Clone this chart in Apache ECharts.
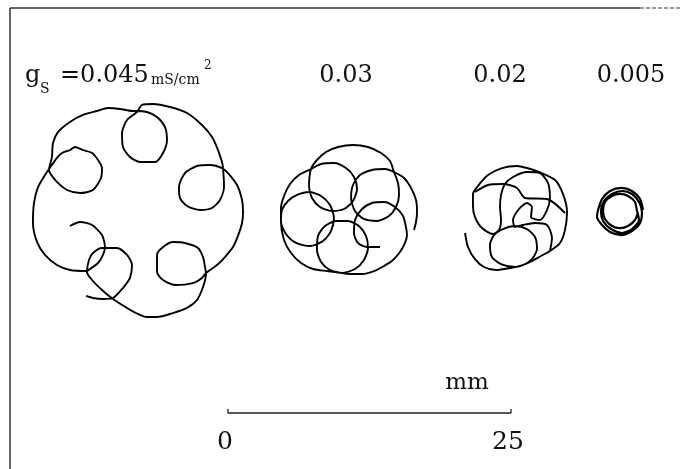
<!DOCTYPE html>
<html>
<head>
<meta charset="utf-8">
<script src="https://cdn.jsdelivr.net/npm/echarts@6/dist/echarts.min.js"></script>
<style>
html,body{margin:0;padding:0;background:#fff;}
#chart{width:682px;height:469px;}
</style>
</head>
<body>
<div id="chart"></div>
<script>
// Tip trajectories, positions in mm (scale bar = 25 mm)
const traj045 = [
[-13.96,16.52],[-13.07,16.87],[-12.01,16.61],[-11.13,15.72],[-10.87,14.66],[-11.04,13.96],[-11.48,13.25],[-12.19,12.72],[-12.46,12.54],
[-13.96,12.63],[-15.11,13.07],[-16.17,13.96],[-16.87,15.11],[-17.23,16.78],[-17.14,18.55],[-16.78,19.96],[-16.17,21.02],[-15.81,21.55],
[-15.11,22.53],[-14.66,22.97],[-13.96,23.23],[-13.52,23.50],[-12.81,23.23],[-12.01,22.97],[-11.48,22.35],[-11.13,21.64],[-11.22,20.76],
[-11.93,19.70],[-13.07,19.43],[-14.22,19.70],[-15.11,20.41],[-15.81,21.47],
[-15.55,22.62],[-15.46,23.85],[-15.02,24.82],[-13.96,25.71],[-12.81,26.33],[-11.57,26.68],[-10.60,26.94],[-9.54,26.86],[-8.48,26.68],[-8.04,26.68],
[-7.16,26.59],[-6.27,26.15],[-5.57,25.27],[-5.39,24.12],[-5.74,22.97],[-6.45,22.17],[-7.77,22.17],[-8.66,22.62],[-9.28,23.50],[-9.36,24.74],[-8.92,25.88],[-8.04,26.59],
[-7.60,27.21],[-6.63,27.30],[-5.12,27.03],[-3.62,26.50],[-2.30,25.44],[-1.41,24.38],[-0.88,23.23],[-0.53,22.17],[-0.44,21.64],
[-0.35,19.96],[-0.71,18.82],[-1.41,18.11],[-2.47,17.93],[-3.62,18.29],[-4.24,18.99],[-4.33,19.96],[-3.80,21.20],[-2.74,21.82],[-1.59,21.91],[-0.53,21.64],
[0,21.20],[0.80,20.14],[1.24,18.82],[1.33,17.76],[1.24,16.78],[0.88,15.64],[0.44,14.66],[-0.27,13.78],[-0.97,13.07],[-1.94,12.37],
[-2.30,11.93],[-3.09,11.48],[-4.68,11.31],[-5.74,11.75],[-6.27,12.46],[-6.27,13.96],[-5.74,14.66],[-4.86,15.11],[-3.80,15.02],[-2.65,14.58],[-2.21,13.78],[-2.03,12.90],[-1.94,12.28],
[-2.21,11.13],[-2.74,9.98],[-3.62,9.28],[-4.86,8.83],[-6.27,8.48],[-7.16,8.48],[-7.95,8.75],[-8.92,9.28],[-10.16,10.07],[-11.13,10.87],[-12.01,11.75],[-12.46,12.46],
[-12.28,13.52],[-11.93,14.13],[-11.13,14.58],[-9.81,14.58],[-8.92,13.96],[-8.48,13.07],[-8.66,11.93],[-9.28,11.04],[-10.16,10.16],[-11.04,10.07],[-11.93,10.16],[-12.54,10.34]
];
const traj03 = [
[13.43,14.66],[12.28,14.66],[11.48,15.02],[11.13,15.90],[11.22,17.05],[11.84,18.02],[12.72,18.55],[13.78,18.64],[14.75,18.20],[15.46,17.40],[15.72,16.43],[15.81,15.72],
[15.64,15.02],[15.19,14.22],[14.58,13.52],[13.78,12.99],[12.90,12.54],[11.84,12.28],[10.78,12.28],[10.07,12.37],
[9.01,12.63],[8.22,13.34],[7.86,14.40],[7.95,15.64],[8.57,16.52],[9.54,16.96],[10.60,16.96],[11.57,16.52],[12.19,15.64],[12.37,14.58],[12.01,13.52],[11.22,12.72],[10.07,12.37],
[8.75,12.54],[7.51,12.72],[6.45,13.25],[5.57,14.13],[4.95,15.28],[4.68,16.87],
[4.77,17.93],[5.30,18.73],[6.10,19.26],[7.16,19.52],[8.22,19.17],[9.01,18.37],[9.36,17.23],[9.10,16.08],[8.39,15.19],[7.24,14.75],[6.01,15.02],[5.12,15.81],[4.68,16.87],
[4.68,18.11],[4.95,19.17],[5.48,20.23],[6.27,21.02],[7.33,21.55],
[8.22,22.00],[9.36,22.08],[10.42,21.64],[11.13,20.85],[11.40,19.79],[11.04,18.73],[10.25,18.02],[9.19,17.84],[8.13,18.20],[7.42,18.99],[7.16,20.05],[7.33,21.55],
[7.86,22.35],[8.66,23.06],[9.72,23.50],[11.04,23.68],[12.37,23.50],[13.52,22.97],[14.31,22.26],[14.66,21.29],
[15.02,20.32],[15.11,19.26],[14.84,18.20],[14.22,17.40],[13.16,16.96],[12.01,17.14],[11.22,17.84],[10.87,18.99],[11.04,20.14],[11.66,21.02],[12.72,21.47],[13.87,21.55],[14.66,21.29],
[15.55,20.76],[16.17,19.88],[16.61,18.82],[16.70,17.76],[16.61,16.87],[16.43,16.17]
];
const traj02 = [
[20.94,15.90],[21.20,14.66],[21.82,13.60],[22.61,12.90],[23.68,12.63],[24.91,12.81],[26.06,13.07],[26.85,13.60],[27.30,14.49],[27.12,15.55],
[26.41,16.25],[25.35,16.52],[24.29,16.25],[23.50,15.72],[23.14,14.84],[23.32,13.78],[24.12,13.16],[25.35,12.90],[26.68,13.34],[27.65,13.87],
[28.44,14.31],[29.33,15.02],[29.77,16.17],[29.95,17.76],[29.59,19.35],[28.89,20.58],[27.47,21.29],[26.41,21.64],[25.53,21.82],[24.20,21.64],
[22.97,21.02],[22.00,19.96],[21.64,19.35],[21.64,18.29],[21.82,17.31],[22.44,16.34],[23.41,15.81],[23.94,16.17],[24.12,17.05],[24.03,18.20],
[24.12,19.26],[24.47,20.23],[25.18,20.85],[26.41,21.29],[27.56,21.20],[28.27,20.32],[28.44,18.99],[28.18,17.93],[27.56,17.05],[26.77,17.31],
[26.85,18.20],[26.41,18.55],[25.71,18.02],[25.18,17.05],[25.35,16.43],[26.06,16.61],[27.12,16.78],[28.18,16.61],[28.62,15.46],[28.44,14.31]
];
const traj02Arc = [
[21.82,19.52],[22.97,20.14],[24.29,20.23],[25.53,19.88],[26.24,18.99],[28.18,18.90],[29.77,17.67]
];
const traj005 = [
[36.66,17.93],[36.40,18.90],[35.69,19.61],[34.72,19.88],[33.75,19.61],[33.04,18.90],[32.69,17.93],[32.60,17.31],[33.04,16.61],[33.75,15.99],[34.72,15.72],[35.69,16.08],[36.40,16.78],
[36.57,17.76],[36.31,18.64],[35.69,19.35],[34.81,19.61],[33.92,19.35],[33.22,18.73],[32.95,17.84],[33.13,16.96],[33.83,16.25],[34.81,15.90],[35.69,16.25],[36.31,17.05],
[36.13,17.84],[35.95,18.64],[35.34,19.17],[34.63,19.35],[33.92,19.17],[33.30,18.64],[33.13,17.84],[33.30,17.14],[33.92,16.52],[34.63,16.34],[35.34,16.52],[35.95,17.05],[36.22,17.76]
];
// Scale bar (mm)
const scaleBarEnds = [0, 25];
const scaleTick = 0.35;
const scaleUnit = 'mm';
// Labels
const gsLabels = ['0.03', '0.02', '0.005'];
const gsFirst = '=0.045';

const chart = echarts.init(document.getElementById('chart'), null, {renderer: 'canvas'});
const serif = '"DejaVu Serif", "Liberation Serif", serif';
const lineSeries = (data, w) => ({
  type: 'line', data: data, symbol: 'none', smooth: 0.25, silent: true,
  lineStyle: {color: '#000', width: w}, animation: false
});
const scaleBar = [
  [scaleBarEnds[0], scaleTick], [scaleBarEnds[0], 0], [scaleBarEnds[1], 0], [scaleBarEnds[1], scaleTick]
];
chart.setOption({
  animation: false,
  backgroundColor: '#fff',
  grid: {left: 0, right: 0, top: 0, bottom: 0},
  xAxis: {type: 'value', min: -20.14, max: 40.106, show: false},
  yAxis: {type: 'value', min: -4.947, max: 36.484, show: false},
  series: [
    lineSeries(traj045, 1.9),
    lineSeries(traj03, 1.9),
    lineSeries(traj02, 1.9),
    lineSeries(traj02Arc, 1.9),
    lineSeries(traj005, 2.2),
    {type: 'line', data: scaleBar, symbol: 'none', silent: true,
     lineStyle: {color: '#222', width: 1.3}}
  ]
});

const p0 = chart.convertToPixel({gridIndex: 0}, [scaleBarEnds[0], 0]);
const p1 = chart.convertToPixel({gridIndex: 0}, [scaleBarEnds[1], 0]);
const txt = (text, x, y, size, align) => ({
  type: 'text', x: x, y: y, silent: true,
  style: {text: text, fill: '#111', font: size + 'px ' + serif,
          align: align || 'left', verticalAlign: 'middle',
          textAlign: align || 'left', textVerticalAlign: 'middle'}
});
chart.setOption({
  graphic: [
    {type: 'line', shape: {x1: 10, y1: 8, x2: 640, y2: 8}, style: {stroke: '#333', lineWidth: 1.5}, silent: true},
    {type: 'line', shape: {x1: 640, y1: 8, x2: 682, y2: 8}, style: {stroke: '#333', lineWidth: 1.2, lineDash: [4, 2]}, silent: true},
    {type: 'line', shape: {x1: 10, y1: 8, x2: 10, y2: 469}, style: {stroke: '#333', lineWidth: 1.5}, silent: true},
    txt('g', 25, 76, 24),
    txt('S', 40, 89, 14),
    txt(gsFirst, 60, 76, 24),
    txt('mS/cm', 151, 80, 14),
    txt('2', 204, 66, 12),
    txt(gsLabels[0], 346, 76, 24, 'center'),
    txt(gsLabels[1], 500, 76, 24, 'center'),
    txt(gsLabels[2], 631, 76, 24, 'center'),
    txt(scaleUnit, 467, 383, 23, 'center'),
    txt(String(scaleBarEnds[0]), p0[0] - 3, 442, 25, 'center'),
    txt(String(scaleBarEnds[1]), p1[0] - 3, 442, 25, 'center')
  ]
});
</script>
</body>
</html>
